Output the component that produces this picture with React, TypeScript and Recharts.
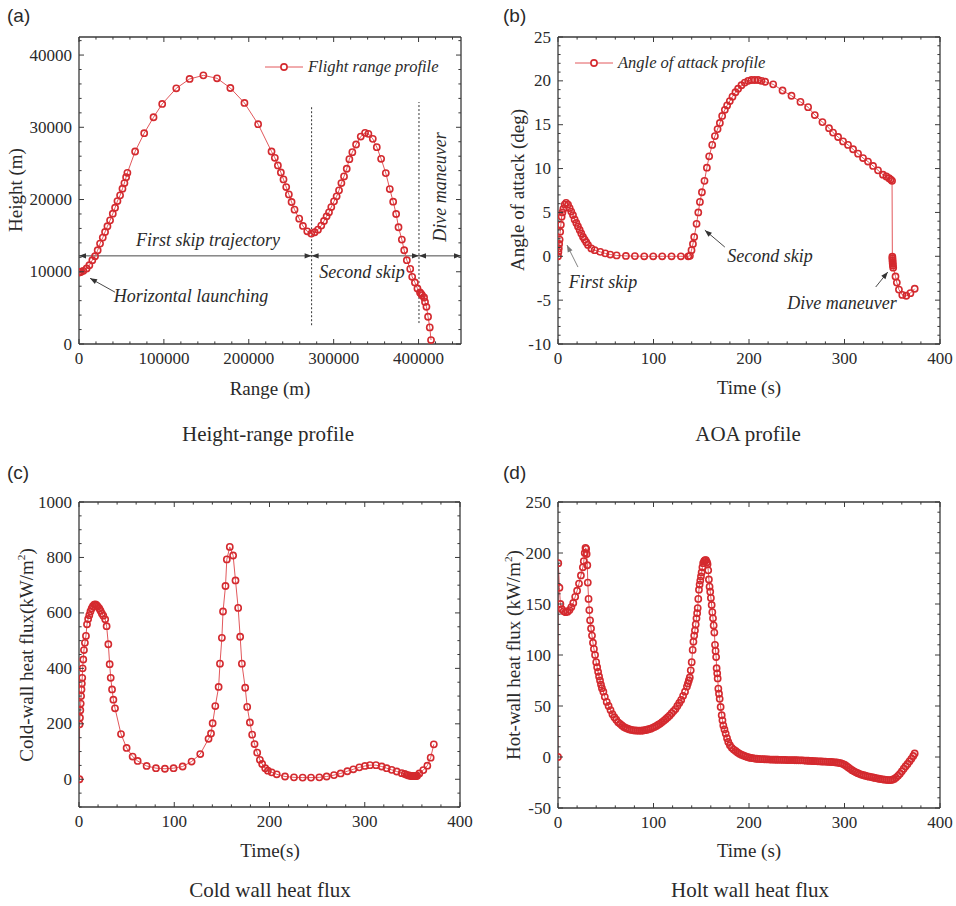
import React from "react";
import { LineChart, Line, XAxis, YAxis, ReferenceLine } from "recharts";

const RED = "#d42a2f";
const LINE_RED = "#e2585c";
const AXIS = "#3a3a3a";
const INK = "#2a2a2a";
const SERIF = '"Liberation Serif", "Times New Roman", serif';
const SANS = '"Liberation Sans", Arial, sans-serif';

// (a) height vs range
const rangeM = [
  0, 1000, 2500, 5100, 9000, 12200, 15700, 18900, 22000, 24800,
  28000, 30700, 33500, 36600, 39800, 42500, 45300, 48400, 51200, 53500,
  55500, 57000, 66100, 76800, 87800, 98000, 114600, 130300, 146500, 162600,
  178300, 194900, 211000, 226800, 230700, 234300, 237800, 240900, 244100, 247200,
  250400, 253900, 259400, 263800, 268900, 273600, 277600, 281500, 285400, 288600,
  291700, 294500, 297200, 300400, 303500, 306300, 309100, 312200, 315400, 318500,
  322000, 326400, 331900, 337000, 340900, 346100, 350800, 355900, 361400, 366100,
  370100, 373600, 376400, 380300, 383100, 386200, 390200, 392500, 395700, 398700,
  401700, 403000, 404100, 406500, 407600, 409300, 411200, 413200, 414700,
];
const heightM = [
  9900, 9950, 10000, 10130, 10450, 10900, 11600, 12150, 12980, 13900,
  14730, 15510, 16300, 17120, 18040, 18870, 19790, 20580, 21500, 22280,
  23100, 23700, 26650, 29180, 31390, 33230, 35400, 36690, 37190, 36780,
  35440, 33370, 30430, 26650, 25780, 24720, 23750, 22790, 21730, 20710,
  19660, 18600, 17350, 16340, 15600, 15280, 15470, 15830, 16390, 17030,
  17680, 18230, 18960, 19750, 20440, 21270, 22280, 23200, 24260, 25590,
  26560, 27620, 28720, 29230, 29090, 28400, 27250, 25640, 23660, 21450,
  19700, 18000, 16160, 14450, 12980, 11600, 10400, 9300, 8520, 7680,
  7130, 6950, 6760, 6440, 5830, 5150, 3770, 2300, 550,
];

// (b) angle of attack vs time
const aoaTime = [
  0, 0.4, 0.8, 1.2, 1.7, 2.3, 3, 3.8, 4.6, 5.6,
  7, 8.5, 10.5, 12.2, 13.9, 15.7, 17.4, 19.2, 20.9, 22.7,
  24.4, 26.2, 27.9, 29.6, 31.4, 34.9, 38.4, 44.3, 49.5, 54.7,
  61.4, 71.1, 80.5, 90.3, 99.7, 109.1, 118.9, 128.7, 136.4, 138.1,
  139.8, 141.3, 142.6, 145.1, 146.9, 148.6, 150.7, 153.4, 155.9, 158.3,
  161.5, 164.3, 167.1, 169.5, 171.9, 174.7, 177.1, 179.9, 182.7, 185.8,
  188.6, 192.1, 195.6, 199.1, 202.6, 206, 209.5, 213, 216.9, 225.3,
  235.1, 244.5, 253.9, 261.9, 268.9, 276.9, 283.8, 288, 293.3, 298.5,
  303.7, 309, 314.2, 319.4, 324.6, 329.9, 335.1, 340.3, 343.8, 346.6,
  348.5, 349.8, 350.1, 350.2, 350.3, 350.4, 350.5, 350.7, 351, 353.4,
  354.8, 357, 360.5, 364.7, 369, 373.5,
];
const aoaDeg = [
  0, 0.5, 0.9, 1.4, 1.9, 2.8, 3.6, 4.5, 5.0, 5.4,
  5.9, 6.1, 5.9, 5.5, 5.1, 4.7, 4.2, 3.8, 3.4, 3.0,
  2.6, 2.2, 1.9, 1.6, 1.3, 0.9, 0.7, 0.5, 0.33, 0.2,
  0.1, 0.04, 0.02, 0, 0, 0, 0, 0, 0, 0.05,
  0.7, 1.4, 2.2, 3.7, 5.0, 6.2, 7.3, 8.6, 10.1, 11.4,
  12.7, 13.7, 14.5, 15.2, 16.0, 16.7, 17.2, 17.7, 18.2, 18.7,
  19.1, 19.5, 19.8, 20.0, 20.1, 20.1, 20.1, 20.0, 19.9, 19.6,
  18.9, 18.3, 17.6, 17.0, 16.1, 15.3, 14.6, 14.1, 13.6, 13.1,
  12.7, 12.2, 11.7, 11.2, 10.8, 10.3, 9.8, 9.3, 9.1, 8.9,
  8.75, 8.6, -0.05, -0.25, -0.45, -0.65, -0.85, -1.05, -1.3, -2.3,
  -3.0, -3.8, -4.4, -4.5, -4.2, -3.7,
];

// (c) cold-wall heat flux vs time
const coldTime = [
  0.5, 0.6, 1, 1.4, 1.8, 2.2, 2.6, 3, 3.4, 3.8,
  4.5, 5.2, 6.2, 7.3, 8.4, 9.6, 10.8, 12, 13.3, 14.6,
  16, 17.3, 18.5, 19.8, 21.3, 22.6, 24, 25.5, 27.5, 29,
  30.8, 32.2, 33.3, 34.7, 36.1, 37.8, 44.1, 50, 56.3, 61.6,
  71, 80.8, 90.2, 99.3, 108.8, 118.2, 127.3, 136, 138.6, 140.3,
  143.1, 146.6, 148, 150, 151.2, 153.8, 155.2, 158.3, 161.8, 164.3,
  167.1, 169.2, 171, 174.5, 176.6, 179.4, 181.8, 184.3, 187.1, 189.9,
  192.3, 195.5, 198.3, 202.3, 207.6, 216.3, 225.7, 234.8, 243.6, 252.3,
  260, 267.7, 274.7, 281.7, 288, 294.3, 300.2, 305.5, 311.8, 317.8,
  323, 328.3, 333.6, 338.8, 342, 344, 346, 347.5, 349, 350,
  351, 352, 353, 354, 355, 357.3, 361.5, 365.7, 369.2, 372.5,
];
const coldFlux = [
  0, 198, 222, 249, 273, 300, 324, 345, 366, 400,
  432, 466, 492, 517, 559, 578, 592, 605, 616, 624,
  630, 631, 628, 623, 616, 608, 598, 590, 577, 552,
  487, 415, 366, 324, 287, 256, 163, 113, 82, 66,
  48, 40, 38, 40, 46, 64, 91, 146, 165, 202,
  264, 333, 417, 510, 605, 697, 793, 838, 807, 717,
  618, 514, 417, 330, 261, 205, 161, 127, 96, 70,
  55, 40, 31, 25, 18, 10, 7, 6, 6, 7,
  10, 15, 21, 29, 36, 43, 48, 51, 51, 46,
  40, 34, 28, 22, 19, 16, 14, 13, 12, 11,
  11, 11, 11, 12, 13, 21, 33, 49, 78, 126,
];

// (d) hot-wall heat flux vs time
const hotTime = [
  0, 0.3, 1.5, 2.5, 4, 6, 8, 10, 12, 14,
  16, 18, 20, 22, 24, 26, 27, 28, 28.8, 29.5,
  30, 30.7, 31.2, 32, 32.8, 33.6, 34.6, 35.6, 36.6, 37.6,
  38.8, 40, 41, 42, 43, 44, 45, 46, 47.5, 49,
  51, 53, 55, 57, 59, 61, 63, 65, 67, 69,
  71, 73, 75, 77, 79, 81, 83, 85, 87, 89,
  91, 93, 95, 97, 99, 101, 103, 105, 107, 109,
  111, 113, 115, 117, 119, 121, 123, 125, 127, 129,
  131, 133, 135, 136, 137, 138, 139, 140, 141, 141.8,
  142.6, 143.4, 144.2, 145, 145.7, 146.3, 146.9, 147.6, 148.3, 149,
  149.7, 150.4, 151.2, 152, 153, 154, 155, 156, 156.6, 157.3,
  158, 158.7, 159.4, 160.1, 160.9, 161.6, 162.3, 163, 163.7, 164.4,
  165, 165.6, 166.1, 166.7, 167.2, 167.9, 168.6, 169.3, 170.3, 171.4,
  172.2, 173.1, 174.3, 175.6, 177, 178.3, 180, 182, 184, 186,
  188, 190, 192, 194, 196, 198, 200, 202, 204, 206,
  208, 210, 212, 214, 216, 218, 220, 222, 224, 226,
  228, 230, 232, 234, 236, 238, 240, 242, 244, 246,
  248, 250, 252, 254, 256, 258, 260, 262, 264, 266,
  268, 270, 272, 274, 276, 278, 280, 282, 284, 286,
  288, 290, 292, 294, 296, 298, 300, 302, 304, 306,
  308, 310, 312, 314, 316, 318, 320, 322, 324, 326,
  328, 330, 332, 334, 336, 338, 340, 342, 344, 346,
  348, 350, 352, 354, 356, 358, 360, 362, 364, 366,
  368, 370, 372, 373.5,
];
const hotFlux = [
  0, 190, 166, 150, 145, 143, 142, 142.5, 144, 147,
  151, 157, 163, 170, 178, 186, 192, 200, 205, 204,
  199, 188, 171, 155, 144, 134, 126, 119, 112, 106,
  100, 93, 88, 83.5, 79, 75, 71, 67.5, 64, 59,
  54, 50, 46, 42, 39, 36.5, 34, 32.5, 31, 29.5,
  28.5, 27.7, 27, 26.5, 26.2, 26, 25.9, 25.8, 25.8, 26,
  26.3, 26.7, 27.2, 27.8, 28.6, 29.5, 30.5, 31.6, 32.8, 34.2,
  35.7, 37.3, 39, 40.8, 43, 45, 47, 50, 53, 56,
  60, 64, 69, 72, 75, 78, 85, 93, 105, 113,
  119, 124, 130, 136, 141, 146, 155, 164, 169, 173,
  177, 181, 186, 190, 192, 193, 193, 191, 189, 183,
  174, 167, 162, 156, 149, 142, 136, 129, 122, 110,
  104, 98, 87, 82, 77, 67, 62, 57, 49, 41,
  36, 31, 27, 23, 18.5, 14.7, 11.5, 9, 7.3, 6,
  4.5, 3.3, 2.3, 1.5, 0.8, 0.1, -0.5, -0.9, -1.2, -1.5,
  -1.7, -1.9, -2, -2.1, -2.2, -2.3, -2.4, -2.5, -2.6, -2.6,
  -2.7, -2.7, -2.8, -2.8, -2.9, -2.9, -3, -3, -3.1, -3.1,
  -3.2, -3.2, -3.3, -3.3, -3.4, -3.5, -3.6, -3.7, -3.8, -3.9,
  -4, -4.1, -4.2, -4.3, -4.4, -4.5, -4.6, -4.7, -4.8, -4.9,
  -5, -5.2, -5.4, -5.7, -6.1, -6.7, -7.6, -8.8, -10.2, -11.6,
  -12.9, -14, -15, -15.9, -16.7, -17.3, -17.9, -18.4, -18.9, -19.3,
  -19.7, -20.1, -20.5, -20.9, -21.3, -21.6, -21.9, -22.2, -22.4, -22.6,
  -22.6, -22.3, -21.5, -20.2, -18.5, -16.5, -14, -11.5, -9, -6.8,
  -4.3, -1.8, 1, 3.5,
];

// tick labels
const rangeTicks = [0, 100000, 200000, 300000, 400000];
const heightTicks = [0, 10000, 20000, 30000, 40000];
const timeTicks = [0, 100, 200, 300, 400];
const aoaTicks = [-10, -5, 0, 5, 10, 15, 20, 25];
const coldTicks = [0, 200, 400, 600, 800, 1000];
const hotTicks = [-50, 0, 50, 100, 150, 200, 250];

const steps = (a: number, b: number, s: number) => {
  const out: number[] = [];
  for (let v = a; v <= b + 1e-9; v += s) out.push(Math.round(v * 1000) / 1000);
  return out;
};

const toRows = (xs: number[], ys: number[]) => xs.map((x, i) => ({ x, y: ys[i] }));

type Side = "bottom" | "top" | "left" | "right";

const tickFor = (side: Side, majors: number[], labels: boolean) => (p: any) => {
  const { x, y, payload } = p;
  const v = payload.value;
  const major = majors.some((m) => Math.abs(m - v) < 1e-6);
  const len = major ? 5 : 2.6;
  let ln = { x1: x, y1: y, x2: x, y2: y };
  if (side === "bottom") ln.y2 = y - len;
  if (side === "top") ln.y2 = y + len;
  if (side === "left") ln.x2 = x + len;
  if (side === "right") ln.x2 = x - len;
  return (
    <g>
      <line {...ln} stroke={AXIS} strokeWidth={1} />
      {labels && major && side === "bottom" && (
        <text x={x} y={y + 14} textAnchor="middle" dominantBaseline="central"
          fontFamily={SERIF} fontSize={17} fill={INK}>{v}</text>
      )}
      {labels && major && side === "left" && (
        <text x={x - 7} y={y} textAnchor="end" dominantBaseline="central"
          fontFamily={SERIF} fontSize={17} fill={INK}>{v}</text>
      )}
    </g>
  );
};

const arrowShape = (both: boolean, color: string, head = 7) => (p: any) => {
  const { x1, y1, x2, y2 } = p;
  const dx = x2 - x1;
  const dy = y2 - y1;
  const L = Math.hypot(dx, dy) || 1;
  const ux = dx / L;
  const uy = dy / L;
  const w = head * 0.38;
  const tri = (tx: number, ty: number, sx: number, sy: number) =>
    `M${tx},${ty} L${tx - sx * head - sy * w},${ty - sy * head + sx * w} L${tx - sx * head + sy * w},${ty - sy * head - sx * w} Z`;
  return (
    <g>
      <line x1={x1} y1={y1} x2={x2} y2={y2} stroke={color} strokeWidth={0.9} />
      <path d={tri(x2, y2, ux, uy)} fill={color} />
      {both && <path d={tri(x1, y1, -ux, -uy)} fill={color} />}
    </g>
  );
};

type PanelProps = {
  xs: number[];
  ys: number[];
  xDomain: [number, number];
  yDomain: [number, number];
  xMajor: number[];
  xMinor: number;
  yMajor: number[];
  yMinor: number;
  plot: { top: number; right: number; bottom: number; left: number };
  children?: React.ReactNode;
};

// axes are 1px thick boxes, so the margins are the plot edges minus 1
function Panel({ xs, ys, xDomain, yDomain, xMajor, xMinor, yMajor, yMinor, plot, children }: PanelProps) {
  const xTicks = steps(xDomain[0], xDomain[1], xMinor);
  const yTicks = steps(yDomain[0], yDomain[1], yMinor);
  const axisLine = { stroke: AXIS, strokeWidth: 1.3 };
  const common = {
    type: "number" as const,
    allowDataOverflow: true,
    interval: 0 as const,
    tickSize: 0,
    tickMargin: 0,
    tickLine: false,
    axisLine,
  };
  const margin = { top: plot.top - 1, right: plot.right - 1, bottom: plot.bottom - 1, left: plot.left - 1 };
  return (
    <LineChart width={478} height={453} data={toRows(xs, ys)} margin={margin}>
      <XAxis xAxisId="b" dataKey="x" orientation="bottom" height={1} domain={xDomain}
        ticks={xTicks} tick={tickFor("bottom", xMajor, true)} {...common} />
      <XAxis xAxisId="t" dataKey="x" orientation="top" height={1} domain={xDomain}
        ticks={xTicks} tick={tickFor("top", xMajor, false)} {...common} />
      <YAxis yAxisId="l" orientation="left" width={1} domain={yDomain}
        ticks={yTicks} tick={tickFor("left", yMajor, true)} {...common} />
      <YAxis yAxisId="r" orientation="right" width={1} domain={yDomain}
        ticks={yTicks} tick={tickFor("right", yMajor, false)} {...common} />
      {children}
      <Line xAxisId="b" yAxisId="l" dataKey="y" type="linear" stroke={LINE_RED} strokeWidth={1}
        dot={{ r: 3.1, stroke: RED, strokeWidth: 1.6, fill: "none" }} activeDot={false}
        isAnimationActive={false} />
    </LineChart>
  );
}

function Txt({ x, y, children, size = 18, italic = false, rotate = 0, align = "center", font = SERIF, color = INK }: any) {
  const tx = align === "center" ? "-50%" : align === "left" ? "0%" : "-100%";
  return (
    <div style={{
      position: "absolute", left: x, top: y, whiteSpace: "nowrap", lineHeight: 1,
      transform: `translate(${tx}, -50%) rotate(${rotate}deg)`,
      fontFamily: font, fontSize: size, fontStyle: italic ? "italic" : "normal", color,
    }}>{children}</div>
  );
}

function LegendKey({ x, y, label }: { x: number; y: number; label: string }) {
  return (
    <>
      <svg style={{ position: "absolute", left: x, top: y - 6 }} width={40} height={12}>
        <line x1={0} y1={6} x2={38} y2={6} stroke={LINE_RED} strokeWidth={1} />
        <circle cx={19} cy={6} r={3.1} stroke={RED} strokeWidth={1.6} fill="#fff" />
      </svg>
      <Txt x={x + 43} y={y} align="left" italic size={16.5}>{label}</Txt>
    </>
  );
}

const pos = (left: number, top: number): React.CSSProperties => ({ position: "absolute", left, top });

export default function App() {
  const ax = { xAxisId: "b", yAxisId: "l" };
  const dotted = { stroke: "#333", strokeWidth: 1, strokeDasharray: "2 2" };
  return (
    <div style={{ position: "absolute", left: 0, top: 0, width: 956, height: 906, background: "#fff", overflow: "hidden" }}>
      <div style={pos(0, 0)}>
        <Panel xs={rangeM} ys={heightM} xDomain={[0, 450000]} yDomain={[0, 42500]}
          xMajor={rangeTicks} xMinor={20000} yMajor={heightTicks} yMinor={2000}
          plot={{ top: 37, right: 17, bottom: 109, left: 79 }}>
          <ReferenceLine {...ax} segment={[{ x: 274000, y: 2600 }, { x: 274000, y: 33000 }]} {...dotted} />
          <ReferenceLine {...ax} segment={[{ x: 400500, y: 2900 }, { x: 400500, y: 33500 }]} {...dotted} />
          <ReferenceLine {...ax} segment={[{ x: 0, y: 12200 }, { x: 274000, y: 12200 }]} shape={arrowShape(true, "#333")} />
          <ReferenceLine {...ax} segment={[{ x: 274000, y: 12200 }, { x: 400500, y: 12200 }]} shape={arrowShape(true, "#333")} />
          <ReferenceLine {...ax} segment={[{ x: 400500, y: 12200 }, { x: 450000, y: 12200 }]} shape={arrowShape(true, "#333")} />
          <ReferenceLine {...ax} segment={[{ x: 42500, y: 7170 }, { x: 13000, y: 9100 }]} shape={arrowShape(false, "#333")} />
        </Panel>
      </div>
      <div style={pos(478, 0)}>
        <Panel xs={aoaTime} ys={aoaDeg} xDomain={[0, 400]} yDomain={[-10, 25]}
          xMajor={timeTicks} xMinor={20} yMajor={aoaTicks} yMinor={1}
          plot={{ top: 37, right: 16, bottom: 109, left: 80 }}>
          <ReferenceLine {...ax} segment={[{ x: 20.9, y: -1.23 }, { x: 9.4, y: 1.28 }]} shape={arrowShape(false, "#777")} />
          <ReferenceLine {...ax} segment={[{ x: 174.7, y: 1.05 }, { x: 153.8, y: 2.98 }]} shape={arrowShape(false, "#333")} />
          <ReferenceLine {...ax} segment={[{ x: 332.7, y: -3.5 }, { x: 345.3, y: -1.8 }]} shape={arrowShape(false, "#333")} />
        </Panel>
      </div>
      <div style={pos(0, 453)}>
        <Panel xs={coldTime} ys={coldFlux} xDomain={[0, 400]} yDomain={[-100, 1000]}
          xMajor={timeTicks} xMinor={20} yMajor={coldTicks} yMinor={50}
          plot={{ top: 49, right: 18, bottom: 99, left: 79 }} />
      </div>
      <div style={pos(478, 453)}>
        <Panel xs={hotTime} ys={hotFlux} xDomain={[0, 400]} yDomain={[-50, 250]}
          xMajor={timeTicks} xMinor={20} yMajor={hotTicks} yMinor={10}
          plot={{ top: 49, right: 16, bottom: 98, left: 80 }} />
      </div>

      {/* panel letters */}
      <Txt x={7} y={15} align="left" font={SANS} size={19}>(a)</Txt>
      <Txt x={503} y={15} align="left" font={SANS} size={19}>(b)</Txt>
      <Txt x={7} y={472} align="left" font={SANS} size={19}>(c)</Txt>
      <Txt x={503} y={472} align="left" font={SANS} size={19}>(d)</Txt>

      {/* axis titles */}
      <Txt x={15} y={190} rotate={-90} size={19}>Height (m)</Txt>
      <Txt x={270} y={388} size={19}>Range (m)</Txt>
      <Txt x={517} y={190} rotate={-90} size={19}>Angle of attack (deg)</Txt>
      <Txt x={749} y={387} size={19}>Time (s)</Txt>
      <Txt x={26} y={655} rotate={-90} size={19}>Cold-wall heat flux(kW/m<sup style={{ fontSize: "0.6em" }}>2</sup>)</Txt>
      <Txt x={270} y={850} size={19}>Time(s)</Txt>
      <Txt x={513} y={655} rotate={-90} size={19}>Hot-wall heat flux (kW/m<sup style={{ fontSize: "0.6em" }}>2</sup>)</Txt>
      <Txt x={749} y={850} size={19}>Time (s)</Txt>

      {/* captions */}
      <Txt x={268} y={434} size={21}>Height-range profile</Txt>
      <Txt x={748} y={434} size={21}>AOA profile</Txt>
      <Txt x={270} y={890} size={21}>Cold wall heat flux</Txt>
      <Txt x={750} y={890} size={21}>Holt wall heat flux</Txt>

      {/* legends */}
      <LegendKey x={265} y={67} label="Flight range profile" />
      <LegendKey x={575} y={63} label="Angle of attack profile" />

      {/* annotations */}
      <Txt x={208} y={240} italic size={18}>First skip trajectory</Txt>
      <Txt x={362} y={272} italic size={18}>Second skip</Txt>
      <Txt x={440} y={187} italic size={18} rotate={-90}>Dive maneuver</Txt>
      <Txt x={191} y={296} italic size={18}>Horizontal launching</Txt>
      <Txt x={603} y={282} italic size={18}>First skip</Txt>
      <Txt x={770} y={256} italic size={18}>Second skip</Txt>
      <Txt x={842} y={303} italic size={18}>Dive maneuver</Txt>
    </div>
  );
}
